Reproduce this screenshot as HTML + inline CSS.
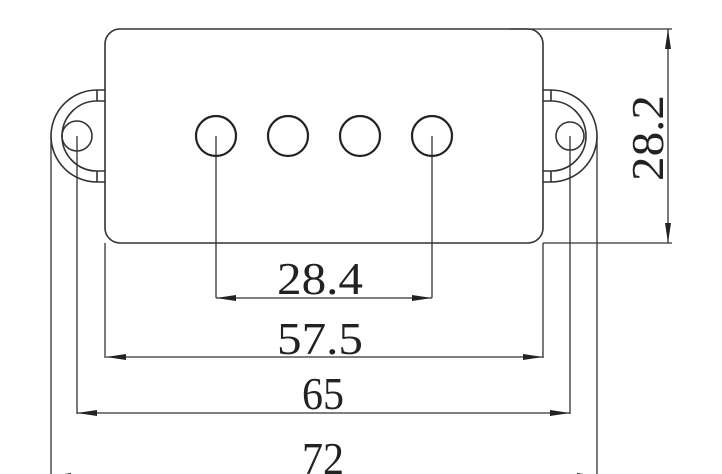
<!DOCTYPE html>
<html><head><style>body{margin:0;background:#fff}svg{display:block}</style></head><body>
<svg width="722" height="474" viewBox="0 0 722 474" xmlns="http://www.w3.org/2000/svg">
<defs>
<marker id="a" viewBox="0 0 20 6" refX="20" refY="3" markerWidth="20" markerHeight="6" markerUnits="userSpaceOnUse" orient="auto-start-reverse"><path d="M0,0 L20,3 L0,6 Z" fill="#222"/></marker>
</defs>
<g fill="none" stroke="#333" stroke-width="1.6">
<rect x="105" y="29" width="438" height="214" rx="15"/>
<path d="M97,90 A46,46 0 0 0 97,182"/>
<path d="M97,101 A35,35 0 0 0 97,171"/>
<path d="M97,90 H105 M97,101 H105 M97,171 H105 M97,182 H105 M97,90 V101 M97,171 V182"/>
<circle cx="77" cy="136" r="15"/>
<path d="M551,90 A46,46 0 0 1 551,182"/>
<path d="M551,101 A35,35 0 0 1 551,171"/>
<path d="M543,90 H551 M543,101 H551 M543,171 H551 M543,182 H551 M551,90 V101 M551,171 V182"/>
<circle cx="570" cy="136" r="14"/>
</g>
<g fill="none" stroke="#222" stroke-width="2.2">
<circle cx="216" cy="136" r="20"/><circle cx="288" cy="136" r="20"/><circle cx="360" cy="136" r="20"/><circle cx="432" cy="136" r="20"/>
</g>
<g stroke="#333" stroke-width="1.3" fill="none">
<line x1="216" y1="136" x2="216" y2="298"/><line x1="432" y1="136" x2="432" y2="298"/>
<line x1="105" y1="243" x2="105" y2="358"/><line x1="543" y1="243" x2="543" y2="358"/>
<line x1="77" y1="136" x2="77" y2="414"/><line x1="570" y1="136" x2="570" y2="414"/>
<line x1="51" y1="136" x2="51" y2="474"/><line x1="597" y1="136" x2="597" y2="474"/>
<line x1="510" y1="29" x2="672" y2="29"/><line x1="543" y1="243" x2="672" y2="243"/>
<line x1="216" y1="298" x2="432" y2="298" marker-start="url(#a)" marker-end="url(#a)"/>
<line x1="106" y1="357" x2="543" y2="357" marker-start="url(#a)" marker-end="url(#a)"/>
<line x1="77" y1="413" x2="570" y2="413" marker-start="url(#a)" marker-end="url(#a)"/>
<line x1="51" y1="476" x2="597" y2="476" marker-start="url(#a)" marker-end="url(#a)"/>
<line x1="668" y1="29" x2="668" y2="243" marker-start="url(#a)" marker-end="url(#a)"/>
</g>
<g font-family="'Liberation Serif', serif" font-size="46" fill="#222">
<text x="277" y="294" textLength="86" lengthAdjust="spacingAndGlyphs">28.4</text>
<text x="277" y="354" textLength="86" lengthAdjust="spacingAndGlyphs">57.5</text>
<text x="302" y="409" textLength="42" lengthAdjust="spacingAndGlyphs">65</text>
<text x="302" y="474" textLength="42" lengthAdjust="spacingAndGlyphs">72</text>
<text transform="translate(663,181) rotate(-90)" x="0" y="0" textLength="86" lengthAdjust="spacingAndGlyphs">28.2</text>
</g>
</svg>
</body></html>
